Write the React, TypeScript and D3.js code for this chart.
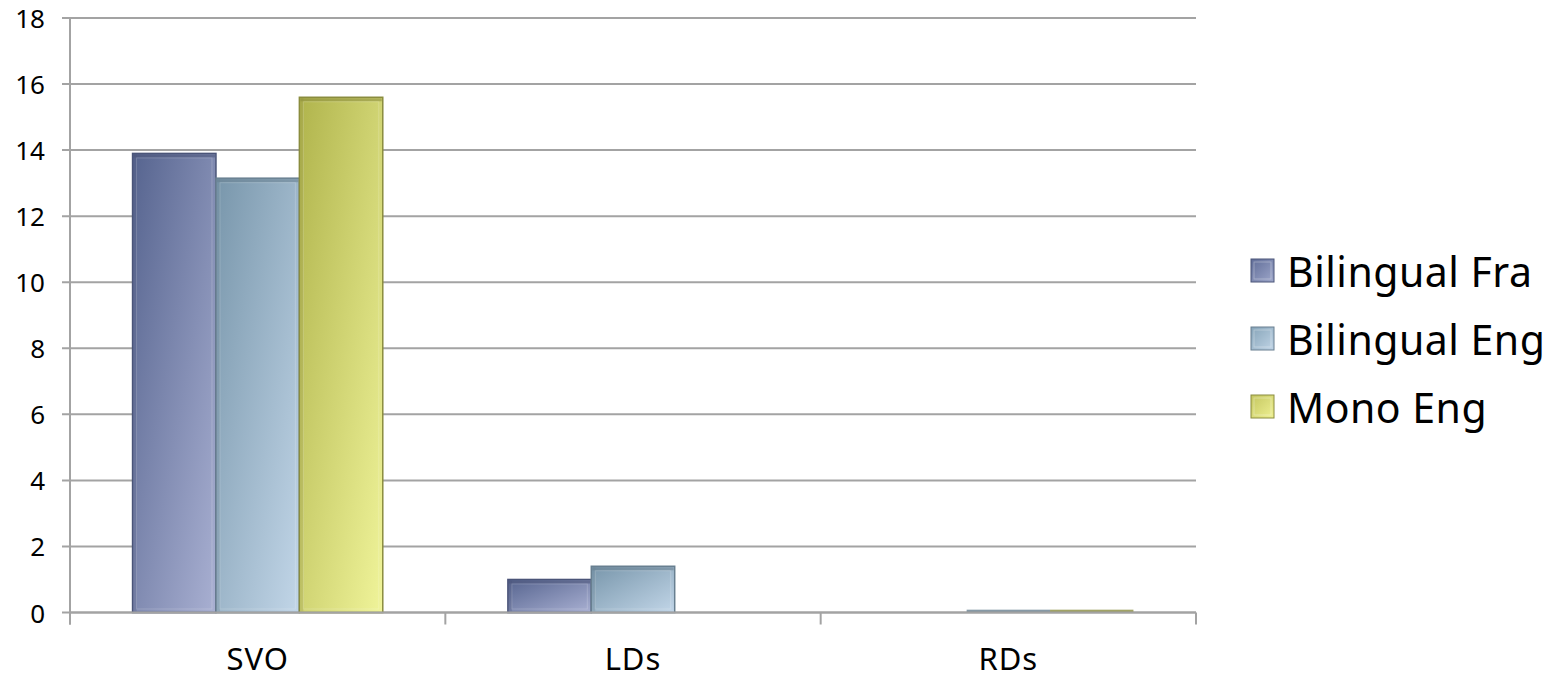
import React from "react";
import * as d3 from "d3";

const categories = ["SVO", "LDs", "RDs"];
const seriesNames = ["Bilingual Fra", "Bilingual Eng", "Mono Eng"];
const bilingualFra = [13.9, 1.0, 0];
const bilingualEng = [13.15, 1.4, 0.04];
const monoEng = [15.6, 0, 0.04];
const yTicks = [0, 2, 4, 6, 8, 10, 12, 14, 16, 18];

const seriesValues = [bilingualFra, bilingualEng, monoEng];
const seriesStyle = [
  { from: "#56648f", to: "#a9b0d2", stroke: "#4a5478", swatchFrom: "#5f6c97", swatchTo: "#9ea7ca" },
  { from: "#7896ab", to: "#c2d6e8", stroke: "#687f90", swatchFrom: "#86a4b8", swatchTo: "#c0d4e6" },
  { from: "#b0b44c", to: "#f0f49a", stroke: "#8a8c3e", swatchFrom: "#c4c660", swatchTo: "#eef092" },
];

const W = 1562;
const H = 678;
const plot = { left: 70, right: 1196, top: 18, bottom: 612.5 };
const FONT = "'Noto Sans', 'Open Sans', sans-serif";

export default function App() {
  const x0 = d3
    .scaleBand<string>()
    .domain(categories)
    .range([plot.left, plot.right])
    .paddingInner(0)
    .paddingOuter(0);
  const x1 = d3
    .scaleBand<string>()
    .domain(seriesNames)
    .range([0, x0.bandwidth()])
    .paddingInner(0)
    .paddingOuter(0.75);
  const y = d3.scaleLinear().domain([0, 18]).range([plot.bottom, plot.top]);

  const boundaries = categories.map((c) => x0(c) as number).concat([plot.right]);
  const gridColor = "#a3a3a3";

  return (
    <svg
      width={W}
      height={H}
      style={{ position: "absolute", left: 0, top: 0, background: "#fff" }}
      fontFamily={FONT}
    >
      <defs>
        {seriesStyle.map((s, i) => (
          <linearGradient key={"g" + i} id={"barGrad" + i} x1="0" y1="0" x2="1" y2="1">
            <stop offset="0" stopColor={s.from} />
            <stop offset="1" stopColor={s.to} />
          </linearGradient>
        ))}
        {seriesStyle.map((s, i) => (
          <linearGradient key={"s" + i} id={"swGrad" + i} x1="0" y1="0" x2="1" y2="1">
            <stop offset="0" stopColor={s.swatchFrom} />
            <stop offset="1" stopColor={s.swatchTo} />
          </linearGradient>
        ))}
      </defs>

      {/* horizontal gridlines */}
      {yTicks.map((t) => (
        <line
          key={"grid" + t}
          x1={plot.left - 8}
          x2={plot.right}
          y1={y(t)}
          y2={y(t)}
          stroke={gridColor}
          strokeWidth={2}
        />
      ))}

      {/* y axis */}
      <line x1={plot.left} x2={plot.left} y1={plot.top} y2={plot.bottom + 12} stroke={gridColor} strokeWidth={2} />
      {yTicks.map((t) => (
        <text
          key={"yl" + t}
          x={45}
          y={y(t)}
          textAnchor="end"
          dominantBaseline="central"
          fontSize={26}
          fill="#000"
        >
          {t}
        </text>
      ))}

      {/* x axis ticks at category boundaries */}
      {boundaries.map((bx, i) => (
        <line key={"xt" + i} x1={bx} x2={bx} y1={plot.bottom} y2={plot.bottom + 12} stroke={gridColor} strokeWidth={2} />
      ))}

      {/* bars */}
      {categories.map((c, ci) =>
        seriesNames.map((s, si) => {
          const v = seriesValues[si][ci];
          if (!v) return null;
          const bx = (x0(c) as number) + (x1(s) as number);
          const bw = x1.bandwidth();
          const by = y(v);
          const bh = y(0) - by;
          const st = seriesStyle[si];
          if (bh < 4) {
            return (
              <rect key={c + s} x={bx} y={by - 1.5} width={bw} height={bh + 1.5} fill={st.stroke} opacity={0.8} />
            );
          }
          return (
            <g key={c + s}>
              <rect x={bx} y={by} width={bw} height={bh} fill={`url(#barGrad${si})`} stroke={st.stroke} strokeWidth={1.5} />
              {/* bevel edges */}
              <rect x={bx + 1} y={by + 1} width={bw - 2} height={3} fill={st.stroke} opacity={0.55} />
              <rect x={bx + 1} y={by + 1} width={3} height={bh - 2} fill={st.stroke} opacity={0.25} />
              <rect
                x={bx + 4}
                y={by + 4.5}
                width={bw - 8}
                height={bh - 8}
                fill="none"
                stroke="#ffffff"
                strokeOpacity={0.18}
                strokeWidth={1}
              />
            </g>
          );
        })
      )}

      {/* x axis line drawn over the bars' base */}
      <line x1={plot.left} x2={plot.right} y1={plot.bottom} y2={plot.bottom} stroke={gridColor} strokeWidth={2} />

      {/* category labels */}
      {categories.map((c) => (
        <text
          key={"xl" + c}
          x={(x0(c) as number) + x0.bandwidth() / 2}
          y={670}
          textAnchor="middle"
          fontSize={31}
          letterSpacing={1}
          fill="#000"
        >
          {c}
        </text>
      ))}

      {/* legend */}
      {seriesNames.map((s, i) => {
        const cy = 271 + i * 68;
        const st = seriesStyle[i];
        return (
          <g key={"lg" + s}>
            <rect x={1251} y={cy - 12} width={23} height={23} fill={`url(#swGrad${i})`} stroke={st.stroke} strokeWidth={1} />
            <rect x={1254} y={cy - 9} width={17} height={17} fill="none" stroke="#fff" strokeOpacity={0.3} strokeWidth={1} />
            <text x={1287} y={cy} dominantBaseline="central" fontSize={41} letterSpacing={0.5} fill="#000">
              {s}
            </text>
          </g>
        );
      })}
    </svg>
  );
}
